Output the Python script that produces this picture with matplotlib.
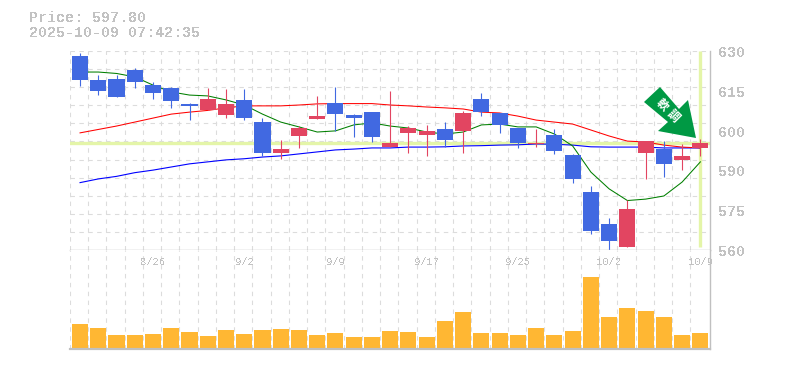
#!/usr/bin/env python3
"""
Candlestick chart with moving averages and a volume panel.
"""

import matplotlib
matplotlib.use("Agg")
import matplotlib.pyplot as plt
from matplotlib.patches import Polygon, Rectangle

W, H = 785, 370

# -----------------------
# Data
# -----------------------
opens = [628.2, 619.8, 620.2, 623.3, 618.0, 617.0, 611.4, 609.3, 607.5, 612.8, 605.0, 594.1,
         600.1, 606.1, 611.7, 607.5, 608.5, 596.2, 601.2, 600.5, 602.6, 601.9, 613.1, 608.2,
         602.9, 597.3, 600.5, 593.4, 580.4, 569.1, 561.1, 594.1, 595.5, 591.7, 595.9]
closes = [619.8, 615.9, 613.8, 619.1, 615.2, 612.4, 610.7, 613.1, 611.4, 606.4, 594.1, 595.5,
          602.9, 607.1, 607.8, 606.4, 599.8, 597.6, 602.9, 601.9, 598.7, 608.2, 608.5, 604.0,
          597.6, 597.6, 594.8, 585.0, 566.7, 563.2, 574.4, 598.3, 590.3, 593.1, 597.8]
highs = [629.3, 621.6, 621.6, 624.0, 619.1, 617.3, 611.7, 617.0, 616.6, 616.6, 606.4, 598.7,
         603.6, 614.2, 617.3, 607.8, 608.5, 615.9, 603.6, 604.0, 605.0, 608.9, 615.2, 608.2,
         602.9, 602.6, 602.6, 593.8, 582.5, 571.3, 577.6, 598.3, 598.3, 597.3, 599.0]
lows = [617.7, 614.5, 613.8, 617.0, 613.1, 610.0, 605.7, 609.3, 606.4, 605.7, 593.1, 592.0,
        595.9, 606.1, 601.9, 599.8, 598.0, 596.2, 594.1, 593.1, 596.2, 594.1, 607.1, 601.2,
        595.9, 596.2, 593.8, 583.6, 565.6, 559.6, 561.1, 585.0, 585.7, 588.1, 593.1]
ma_short = [622.6, 622.6, 622.1, 620.9, 618.0, 615.6, 614.5, 614.2, 612.8, 611.0, 607.8, 605.0,
            603.3, 601.5, 601.9, 604.0, 604.7, 603.6, 602.9, 601.5, 600.8, 601.5, 604.0, 604.3,
            603.3, 603.3, 600.8, 596.6, 587.4, 581.5, 577.4, 577.9, 579.0, 583.9, 591.0]
ma_mid = [601.2, 602.4, 603.6, 605.0, 606.4, 607.8, 608.5, 609.1, 610.0, 610.7, 610.7, 610.7,
          611.0, 611.4, 611.5, 611.5, 611.5, 611.0, 610.7, 610.3, 610.0, 609.6, 608.5, 608.2,
          607.1, 605.7, 605.0, 604.3, 602.2, 600.1, 598.3, 598.0, 596.9, 596.2, 595.9]
ma_long = [583.7, 585.0, 585.9, 587.2, 588.1, 589.2, 590.3, 591.0, 591.7, 592.1, 592.7, 593.1,
           593.8, 594.5, 595.2, 595.5, 595.9, 595.9, 596.2, 596.2, 596.3, 596.6, 596.7, 596.9,
           597.0, 597.3, 597.2, 596.9, 596.3, 596.2, 596.2, 596.2, 595.9, 595.9, 595.9]
volumes = [24, 20, 13, 13, 14, 20, 16, 12, 18, 14, 18, 19, 18, 13, 15, 11, 11, 17,
           16, 11, 27, 36, 15, 15, 13, 20, 13, 17, 71, 31, 40, 37, 31, 13, 15]

price_labels = ["630", "615", "600", "590", "575", "560"]
price_label_pos = [630, 616, 602, 588, 574, 560]
date_labels = ["8/26", "9/2", "9/9", "9/17", "9/25", "10/2", "10/9"]
date_idx = [4, 9, 14, 19, 24, 29, 34]
last_price = 597.80
timestamp = "2025-10-09 07:42:35"
arrow_chars = ["軟", "調"]

# -----------------------
# Styles
# -----------------------
GRID = "#dcdcdc"
FRAME = "#c0c0c0"
TEXT = "#c2c2c2"
UP = "#e24561"
DOWN = "#4169e1"
LIME = "#e4f5a8"
BAR = "#ffb733"
ARROW = "#009944"

plt.rcParams["font.family"] = ["Liberation Mono", "DejaVu Sans Mono"]
plt.rcParams["text.antialiased"] = False


def box(x0, y0, x1, y1):
    return [x0 / W, 1 - y1 / H, (x1 - x0) / W, (y1 - y0) / H]


def fx(x, y):
    return (x / W, 1 - y / H)


def style_grid(ax):
    ax.set_xlim(-0.55, 34.5)
    ax.set_xticks([i - 0.55 for i in range(35)])
    ax.tick_params(length=0, labelleft=False, labelbottom=False)
    ax.grid(True, color=GRID, lw=0.8, ls=(0, (4, 4)), zorder=0)
    ax.set_axisbelow(True)
    for s in ax.spines.values():
        s.set_visible(False)


fig = plt.figure(figsize=(W / 100, H / 100), dpi=100, facecolor="white")
ax = fig.add_axes(box(70, 51, 709.5, 250))
vol = fig.add_axes(box(70, 250, 709.5, 349))

# -----------------------
# Price panel
# -----------------------
style_grid(ax)
ax.set_ylim(560, 630)
ax.set_yticks([560 + i * 70 / 11 for i in range(12)])
ax.axhline(last_price, color=LIME, lw=2.4, zorder=1)
ax.plot([34, 34], [561, 630], color=LIME, lw=2.4, zorder=1, solid_capstyle="butt")

xs = list(range(35))
ax.plot(xs, ma_long, color="#0000ff", lw=0.8, zorder=2)
ax.plot(xs, ma_mid, color="#ff0000", lw=0.75, zorder=2)
ax.plot(xs, ma_short, color="#007f00", lw=0.75, zorder=2)

for i in xs:
    c = UP if closes[i] >= opens[i] else DOWN
    ax.plot([i, i], [lows[i], highs[i]], color=c, lw=0.8, zorder=3, solid_capstyle="butt", clip_on=False)
    lo = min(opens[i], closes[i])
    ax.add_patch(Rectangle((i - 0.44, lo), 0.88, abs(closes[i] - opens[i]), fc=c, ec="none", zorder=4))

ax.plot([-0.55, 34.5], [560, 560], color=FRAME, lw=1.0, clip_on=False, zorder=5)
ax.plot([34.5, 34.5], [560, 630], color=FRAME, lw=1.0, clip_on=False, zorder=5)

for lab, p in zip(price_labels, price_label_pos):
    ax.annotate(lab, (1, p), xycoords=("axes fraction", "data"), xytext=(9, -2),
                textcoords="offset pixels", ha="left", va="center", color=TEXT,
                fontsize=10.8, fontweight="bold")

# -----------------------
# Volume panel
# -----------------------
style_grid(vol)
vol.set_ylim(-1, 98)
vol.set_yticks([])
vol.bar(xs, volumes, width=0.88, color=BAR, zorder=3)
vol.plot([-0.55, 34.5], [-1, -1], color=FRAME, lw=1.6, clip_on=False, zorder=5)
vol.plot([34.5, 34.5], [-1, 98], color=FRAME, lw=1.0, clip_on=False, zorder=5)

for lab, i in zip(date_labels, date_idx):
    vol.annotate(lab, (i, 1), xycoords=("data", "axes fraction"), xytext=(0, -12),
                 textcoords="offset pixels", ha="center", va="center", color=TEXT, fontsize=7.6)

# -----------------------
# Header and arrow
# -----------------------
fig.text(*fx(29, 18), f"Price: {last_price:.2f}", ha="left", va="center", color=TEXT,
         fontsize=10.8, fontweight="bold")
fig.text(*fx(29, 33), timestamp, ha="left", va="center", color=TEXT, fontsize=10.8, fontweight="bold")

arrow_pts = [fx(660, 87), fx(644, 102), fx(668, 122), fx(658, 131), fx(696, 138), fx(688, 100), fx(679, 109)]
fig.add_artist(Polygon(arrow_pts, closed=True, fc=ARROW, ec="none", transform=fig.transFigure, zorder=10))
for ch, (gx, gy) in zip(arrow_chars, [(662, 105), (673, 116)]):
    fig.text(*fx(gx, gy), ch, rotation=-45, rotation_mode="anchor", ha="center", va="center",
             color="white", fontsize=8.5, fontweight="bold", antialiased=True,
             family=["Noto Sans CJK JP", "DejaVu Sans"], zorder=11)

fig.savefig("out.png", dpi=100)
plt.close(fig)
